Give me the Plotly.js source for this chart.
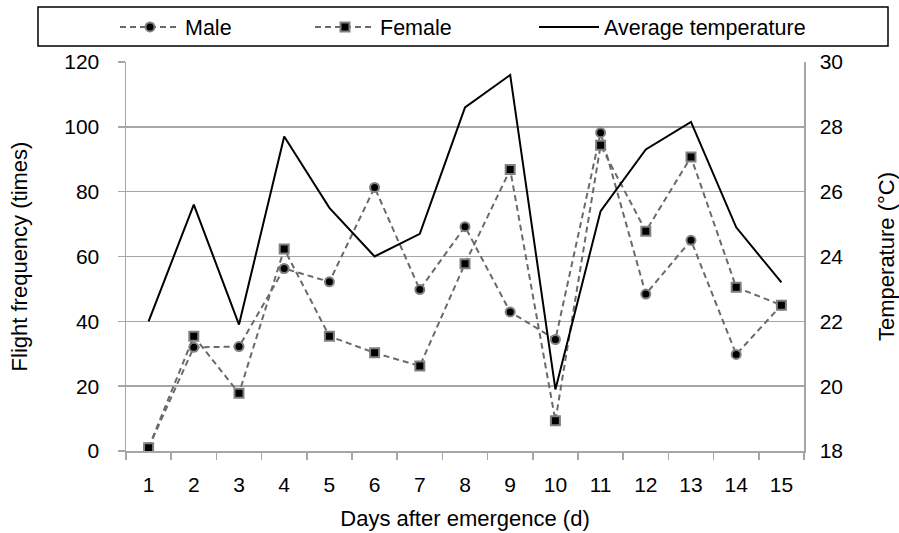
<!DOCTYPE html>
<html>
<head>
<meta charset="utf-8">
<script src="https://cdn.plot.ly/plotly-3.0.1.min.js"></script>
<style>html,body{margin:0;padding:0;background:#fff}#chart{width:899px;height:533px}</style>
</head>
<body>
<div id="chart"></div>
<script>
const days = ["1","2","3","4","5","6","7","8","9","10","11","12","13","14","15"];
const male = [1, 32, 32.2, 56.3, 52.2, 81.3, 49.8, 69.2, 42.9, 34.4, 98.2, 48.4, 65.0, 29.8, 45.0];
const female = [1, 35.4, 17.8, 62.3, 35.4, 30.3, 26.2, 57.8, 86.8, 9.3, 94.3, 67.8, 90.7, 50.5, 45.0];
const temperature = [22.0, 25.6, 21.9, 27.7, 25.5, 24.0, 24.7, 28.6, 29.6, 19.9, 25.4, 27.3, 28.15, 24.9, 23.2];
const leftTicks = [0, 20, 40, 60, 80, 100, 120];
const rightTicks = [18, 20, 22, 24, 26, 28, 30];

const FONT = "Liberation Sans, Arial, sans-serif";
const GRID = "#a6a6a6";
const W = 899, H = 533;
const PL = 126, PR = 804, PT = 62, PB = 451;
const PW = PR - PL, PH = PB - PT;
const px2x = v => (v - PL) / PW;
const px2y = v => (PB - v) / PH;

const traces = [
  {
    x: days, y: male, name: "Male", type: "scatter", mode: "lines+markers", legend: "legend",
    line: {color: "#6a6a6a", width: 2, dash: "6px,4px"},
    marker: {symbol: "circle", size: 9, color: "#000", line: {color: "#808080", width: 2}}
  },
  {
    x: days, y: female, name: "Female", type: "scatter", mode: "lines+markers", legend: "legend2",
    line: {color: "#6a6a6a", width: 2, dash: "6px,4px"},
    marker: {symbol: "square", size: 9, color: "#000", line: {color: "#808080", width: 2}}
  },
  {
    x: days, y: temperature, name: "Average temperature", type: "scatter", mode: "lines",
    yaxis: "y2", legend: "legend3",
    line: {color: "#000", width: 2}
  }
];

function leg(xpx) {
  return {
    x: px2x(xpx), xanchor: "left", y: px2y(27), yanchor: "middle",
    font: {family: FONT, size: 21.5, color: "#000"},
    itemwidth: 60, bgcolor: "rgba(0,0,0,0)", borderwidth: 0
  };
}

const layout = {
  width: W, height: H,
  margin: {l: PL, r: W - PR, t: PT, b: H - PB, autoexpand: false},
  paper_bgcolor: "#fff", plot_bgcolor: "#fff",
  font: {family: FONT, size: 21, color: "#000"},
  showlegend: true,
  legend: leg(115),
  legend2: leg(310),
  legend3: leg(534),
  xaxis: {
    type: "category", range: [-0.5, 14.5],
    tickson: "boundaries", ticks: "outside", ticklen: 7, tickcolor: GRID, tickwidth: 1.5,
    ticklabelstandoff: 14,
    showline: true, linecolor: GRID, linewidth: 1.5,
    showgrid: false, zeroline: false,
    tickfont: {family: FONT, size: 21, color: "#000"},
    title: {text: "Days after emergence (d)", font: {family: FONT, size: 22, color: "#000"}, standoff: 16}
  },
  yaxis: {
    range: [0, 120], tickvals: leftTicks, ticktext: leftTicks.map(String),
    ticks: "outside", ticklen: 7, tickcolor: GRID, tickwidth: 1.5,
    ticklabelstandoff: 14,
    showline: true, linecolor: GRID, linewidth: 1.5,
    showgrid: true, gridcolor: GRID, gridwidth: 1.5, zeroline: false,
    tickfont: {family: FONT, size: 21, color: "#000"},
    title: {text: "Flight frequency (times)", font: {family: FONT, size: 22, color: "#000"}, standoff: 30}
  },
  yaxis2: {
    overlaying: "y", side: "right",
    range: [18, 30], tickvals: rightTicks, ticktext: rightTicks.map(String),
    ticks: "", showline: true, linecolor: GRID, linewidth: 1.5,
    ticklabelstandoff: 10,
    showgrid: false, zeroline: false,
    tickfont: {family: FONT, size: 21, color: "#000"},
    title: {text: "Temperature (°C)", font: {family: FONT, size: 22, color: "#000"}, standoff: 36}
  },
  shapes: [
    {type: "rect", xref: "paper", yref: "paper",
     x0: px2x(38), x1: px2x(888), y0: px2y(46), y1: px2y(7),
     line: {color: "#000", width: 1.5}, fillcolor: "rgba(0,0,0,0)", layer: "below"}
  ]
};

Plotly.newPlot("chart", traces, layout, {displayModeBar: false, staticPlot: true});
</script>
</body>
</html>
